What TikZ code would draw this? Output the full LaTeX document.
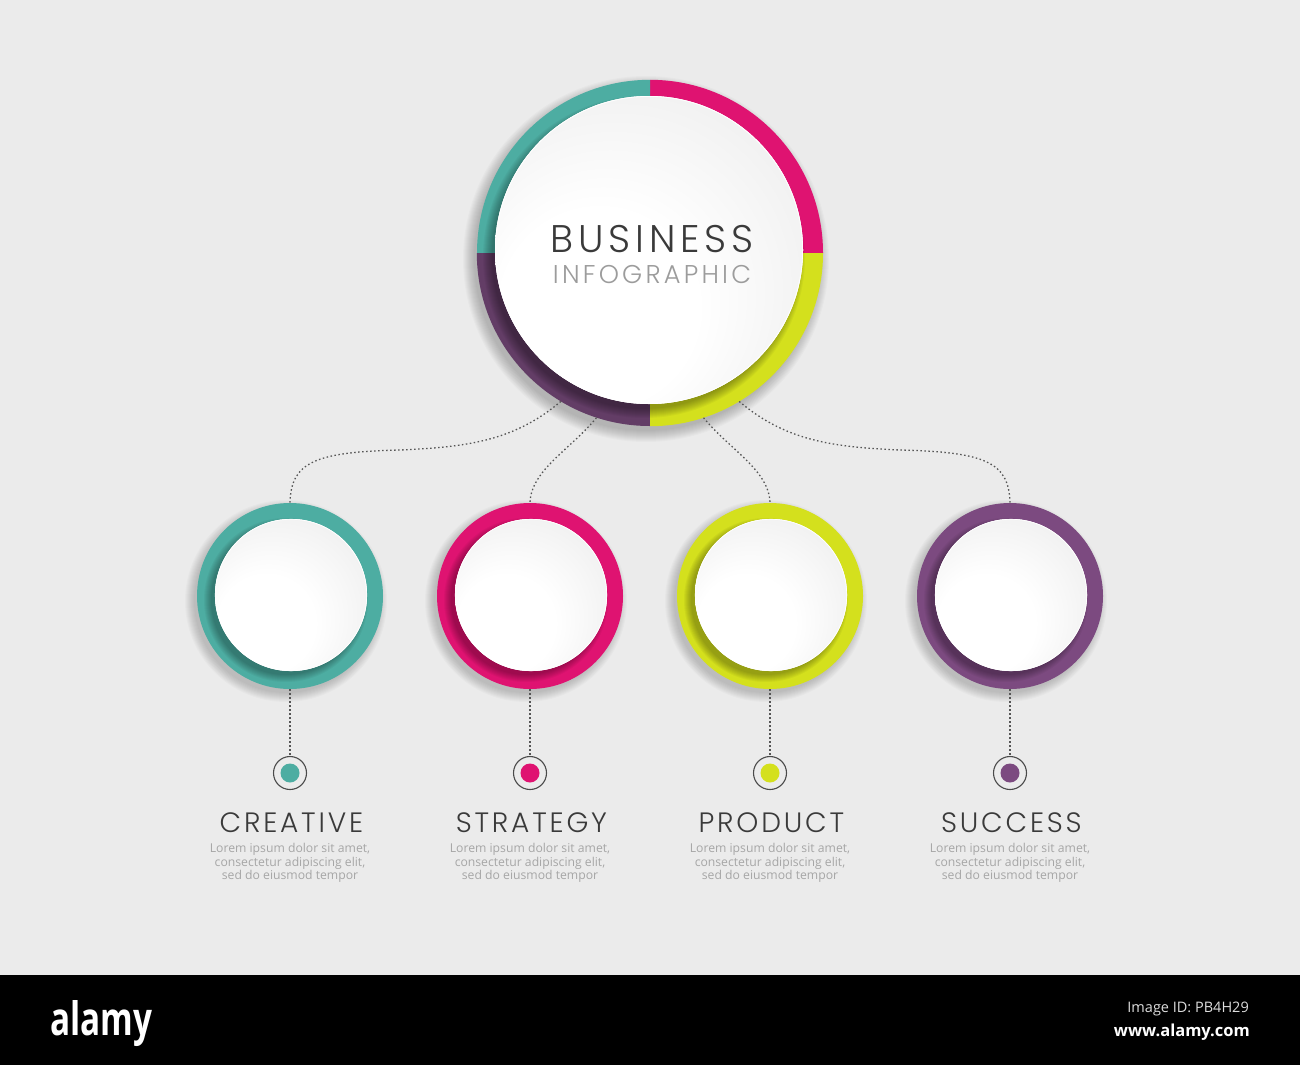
\documentclass[tikz,border=0pt]{standalone}
\usepackage{fontspec}
\IfFontExistsTF{Poppins Light}{%
  \newfontfamily\hfont{Poppins Light}[LetterSpace=10]%
  \newfontfamily\bizfont{Poppins Light}[LetterSpace=12.5]}{%
  \newfontfamily\hfont{Poppins}[LetterSpace=10]%
  \newfontfamily\bizfont{Poppins}[LetterSpace=12.5]}
\newfontfamily\osfont{Open Sans}
\definecolor{bg}{HTML}{EBEBEB}
\definecolor{cteal}{HTML}{4DADA2}
\definecolor{cmag}{HTML}{DF1371}
\definecolor{clime}{HTML}{D4E01D}
\definecolor{cpurp}{HTML}{7C4A80}
\definecolor{cpurpd}{HTML}{633D66}
\definecolor{headgray}{HTML}{3A3A3A}
\definecolor{infogray}{HTML}{9C9C9C}
\definecolor{loremgray}{HTML}{A6A6A6}
\definecolor{markgray}{HTML}{4A4A4A}
\definecolor{conngray}{HTML}{555555}
\definecolor{discedge}{HTML}{E2E2E2}
\definecolor{idgray}{HTML}{DDDDDD}
\pgfdeclareradialshading{discshade}{\pgfpoint{-12bp}{-14bp}}{color(0bp)=(white); color(16bp)=(white); color(50bp)=(discedge)}
\begin{document}
\begin{tikzpicture}[x=1pt,y=-1pt,
  ringnode/.style={circle, inner sep=0pt, minimum size=#1},
  discnode/.style={circle, inner sep=0pt, minimum size=#1, fill=white},
  conn/.style={draw=conngray, line width=1.3pt, dash pattern=on 1.5pt off 2.5pt},
  marker/.style={circle, draw=markgray, line width=1.1pt, minimum size=33pt, inner sep=0pt},
  head/.style={font=\hfont\fontsize{28}{30}\selectfont, text=headgray, anchor=base, inner sep=0pt},
  lorem/.style={font=\osfont\fontsize{12.2}{13.4}\selectfont, text=loremgray, align=center, inner sep=0pt},
  barbig/.style={anchor=base west, inner sep=0pt, text=white},
  barsmall/.style={anchor=base east, inner sep=0pt},
  shadowpiece/.style={fill=black, fill opacity=#1},
]
\useasboundingbox (0,0) rectangle (1300,1065);
\fill[bg] (0,0) rectangle (1300,975);
\fill[black] (0,975) rectangle (1300,1065);

% way points of the two outer connectors
\coordinate (h1) at (400,450);
\coordinate (h4) at (900,450);

% ---------- main ring ----------
\foreach \k in {0,...,11} {\fill[shadowpiece=0.018] (646,259) circle (172+\k);}
\node[ringnode=346pt] (main) at (650,253) {};
\fill[cmag] (main.center) -- (main.north) arc[start angle=-90, end angle=0, radius=173] -- cycle;
\fill[cteal] (main.center) -- (main.north) arc[start angle=-90, end angle=-180, radius=173] -- cycle;
\fill[cpurpd] (main.center) -- (main.west) arc[start angle=180, end angle=90, radius=173] -- cycle;
\fill[clime] (main.center) -- (main.south) arc[start angle=90, end angle=0, radius=173] -- cycle;
\begin{scope}
  \clip (650,253) circle (173);
  \foreach \k in {0,...,9} {\fill[shadowpiece=0.035] (644,257) circle (152+\k);}
\end{scope}
\node[discnode=308pt] (mdisc) at (649,250) {};
\shade[shading=discshade] (mdisc.center) circle (154);
\draw[white, line width=0.8pt] (mdisc.center) circle (153.6);
\node[font=\bizfont\fontsize{38.5}{40}\selectfont, text=headgray, anchor=base, inner sep=0pt] (biz) at (652,252) {BUSINESS};
\node[font=\bizfont\fontsize{25.7}{28}\selectfont, text=infogray, anchor=base, inner sep=0pt] (info) at (652,283) {INFOGRAPHIC};

% ---------- four steps ----------
\foreach \i/\x/\col/\lab in {1/290/cteal/CREATIVE, 2/530/cmag/STRATEGY, 3/770/clime/PRODUCT, 4/1010/cpurp/SUCCESS} {
  \foreach \k in {0,...,9} {\fill[shadowpiece=0.02] (\x-4,601) circle (92+\k);}
  \node[ringnode=186pt, fill=\col] (c\i) at (\x,596) {};
  \begin{scope}
    \clip (\x,596) circle (93);
    \foreach \k in {0,...,7} {\fill[shadowpiece=0.04] (\x-4,600) circle (75+\k);}
  \end{scope}
  \node[discnode=152pt] (d\i) at (\x+1,595) {};
  \shade[shading=discshade] (d\i.center) circle (76);
  \draw[white, line width=0.7pt] (d\i.center) circle (75.7);
  \node[marker] (m\i) at (\x,773) {};
  \fill[\col] (m\i.center) circle (9.5);
  \draw[conn] (c\i.south) -- (m\i.north);
  \node[head] (t\i) at (\x+1.4,832) {\lab};
  \node[lorem, anchor=north] (l\i) at (\x,843.5) {Lorem ipsum dolor sit amet,\\consectetur adipiscing elit,\\sed do eiusmod tempor};
}

% ---------- connectors ----------
\draw[conn] (main.239) .. controls (515,440) and (470,447) .. (h1) .. controls (315,452) and (291,462) .. (c1.north);
\draw[conn] (main.252) .. controls (570,450) and (531,470) .. (c2.north);
\draw[conn] (main.288) .. controls (730,450) and (769,470) .. (c3.north);
\draw[conn] (main.301) .. controls (785,440) and (830,447) .. (h4) .. controls (985,452) and (1009,462) .. (c4.north);

% ---------- bottom bar ----------
\node[barbig] (logo) at (50,1035) {\resizebox{102pt}{35pt}{\osfont\bfseries alamy}};
\node[barsmall, text=idgray, font=\osfont\fontsize{14.5}{16}\selectfont] (imgid) at (1249,1012) {Image ID: PB4H29};
\node[barsmall, text=white, font=\osfont\bfseries\fontsize{16.5}{18}\selectfont] (www) at (1250,1036) {www.alamy.com};
\end{tikzpicture}
\end{document}
